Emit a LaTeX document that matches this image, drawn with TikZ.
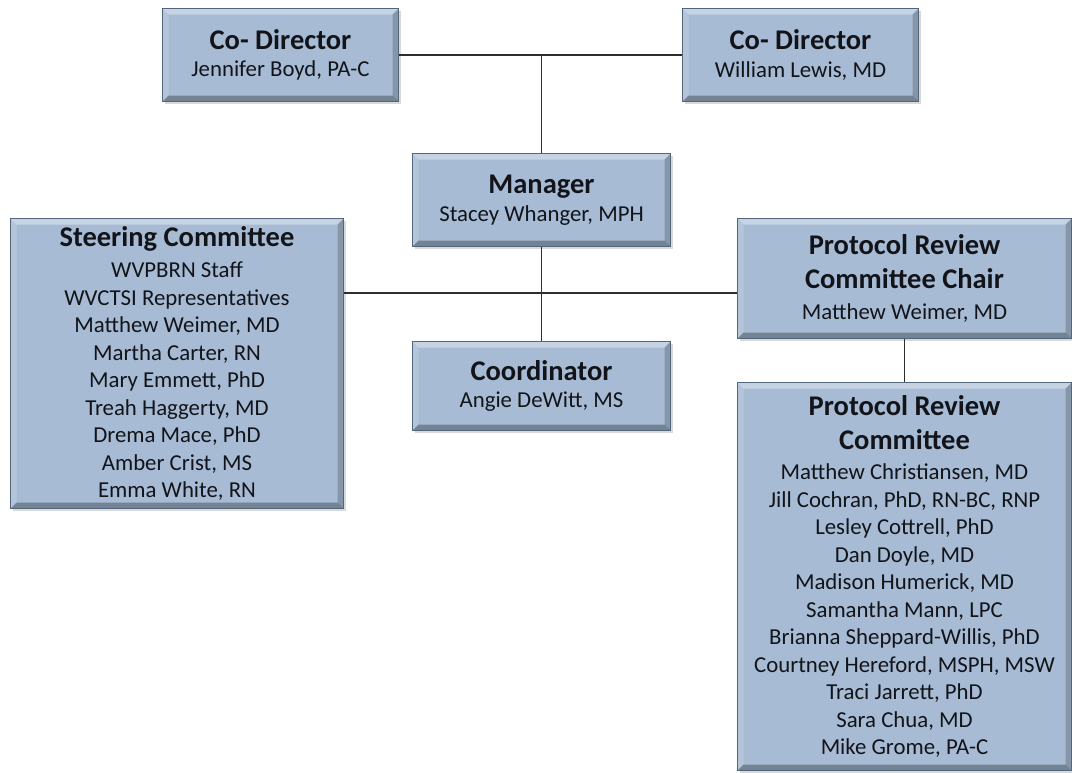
\documentclass[tikz,border=0pt]{standalone}
\usepackage{fontspec}
\setmainfont{Carlito}
\usetikzlibrary{shadows}

\definecolor{boxfill}{RGB}{167,188,212}
\definecolor{boxedge}{RGB}{82,102,128}
\definecolor{inktext}{RGB}{18,20,26}
\definecolor{linkgray}{RGB}{45,45,45}

\newcommand{\hd}[1]{{\fontsize{28.5}{35}\selectfont\bfseries #1}}

\tikzset{
  orgbox/.style={draw=boxedge, line width=1pt, fill=boxfill, anchor=north west,
    align=center, inner sep=2pt, text=inktext, font=\fontsize{22.8}{27.5}\selectfont,
    drop shadow={shadow xshift=2pt, shadow yshift=-2pt, opacity=.3},
    path picture={
      \fill[white,opacity=.35] (path picture bounding box.north west) -- (path picture bounding box.north east)
        -- ([shift={(-6,6)}]path picture bounding box.north east) -- ([shift={(6,6)}]path picture bounding box.north west) -- cycle;
      \fill[white,opacity=.15] (path picture bounding box.north west) -- ([shift={(6,6)}]path picture bounding box.north west)
        -- ([shift={(6,-6)}]path picture bounding box.south west) -- (path picture bounding box.south west) -- cycle;
      \fill[black,opacity=.2] (path picture bounding box.north east) -- ([shift={(-6,6)}]path picture bounding box.north east)
        -- ([shift={(-6,-6)}]path picture bounding box.south east) -- (path picture bounding box.south east) -- cycle;
      \fill[black,opacity=.3] (path picture bounding box.south west) -- ([shift={(6,-6)}]path picture bounding box.south west)
        -- ([shift={(-6,-6)}]path picture bounding box.south east) -- (path picture bounding box.south east) -- cycle;
    }},
  link/.style={draw=linkgray, line width=1.2pt}
}

\begin{document}
\begin{tikzpicture}[x=1pt,y=-1pt]
  \useasboundingbox (0,0) rectangle (1072,772);

  % top row
  \node[orgbox, minimum width=236, minimum height=93] (cdl) at (162,8)
    {\hd{Co- Director}\\ Jennifer Boyd, PA-C};
  \node[orgbox, minimum width=236, minimum height=93] (cdr) at (682,8)
    {\hd{Co- Director}\\ William Lewis, MD};

  \node[orgbox, minimum width=258, minimum height=93] (mgr) at (412,153)
    {\hd{Manager}\\ Stacey Whanger, MPH};
  \node[orgbox, minimum width=258, minimum height=89] (crd) at (412,341)
    {\hd{Coordinator}\\ Angie DeWitt, MS};

  \node[orgbox, minimum width=333, minimum height=290] (stc) at (10,218)
    {\hd{Steering Committee}\\[4pt]
     WVPBRN Staff\\ WVCTSI Representatives\\ Matthew Weimer, MD\\
     Martha Carter, RN\\ Mary Emmett, PhD\\ Treah Haggerty, MD\\
     Drema Mace, PhD\\ Amber Crist, MS\\ Emma White, RN};

  \node[orgbox, minimum width=334, minimum height=120] (chair) at (737,218)
    {\hd{Protocol Review}\\[6pt] \hd{Committee Chair}\\[4pt] Matthew Weimer, MD};
  \node[orgbox, minimum width=334, minimum height=388] (prc) at (737,382)
    {\hd{Protocol Review}\\[6pt] \hd{Committee}\\[3pt]
     Matthew Christiansen, MD\\ Jill Cochran, PhD, RN-BC, RNP\\
     Lesley Cottrell, PhD\\ Dan Doyle, MD\\ Madison Humerick, MD\\
     Samantha Mann, LPC\\ Brianna Sheppard-Willis, PhD\\
     Courtney Hereford, MSPH, MSW\\ Traci Jarrett, PhD\\
     Sara Chua, MD\\ Mike Grome, PA-C};

  \coordinate (hub) at (541,293);

  \draw[link] (cdl) -- (cdr);
  \draw[link] (mgr.north) -- (mgr.north |- cdl.east);
  \draw[link] (mgr) -- (crd);
  \draw[link] (hub -| stc.east) -- (hub -| chair.west);
  \draw[link] (chair) -- (prc);
\end{tikzpicture}
\end{document}
